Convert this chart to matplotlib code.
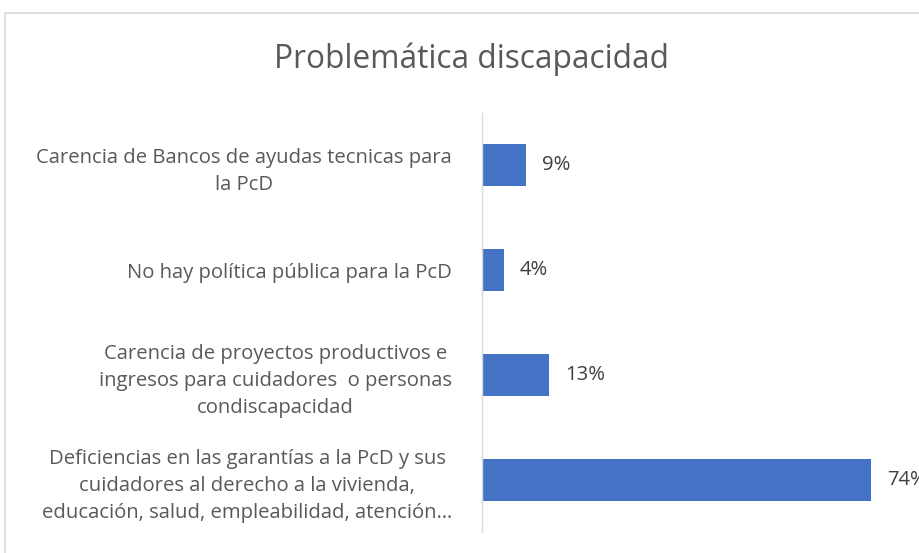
import matplotlib
matplotlib.use("Agg")
import matplotlib.pyplot as plt
from matplotlib.patches import Rectangle

categories = [
    "Carencia de Bancos de ayudas tecnicas para\nla PcD",
    "No hay política pública para la PcD",
    "Carencia de proyectos productivos e\ningresos para cuidadores  o personas\ncondiscapacidad",
    "Deficiencias en las garantías a la PcD y sus\ncuidadores al derecho a la vivienda,\neducación, salud, empleabilidad, atención…",
]
values = [8.5, 4.2, 12.8, 74.4]
labels = ["9%", "4%", "13%", "74%"]

W, H = 919, 553
fig = plt.figure(figsize=(W / 100, H / 100), dpi=100)
fig.patch.set_facecolor("white")

# chart area border
fig.patches.append(Rectangle((5 / W, -0.2), 1.5, (H - 13) / H + 0.2,
                             transform=fig.transFigure, fill=False,
                             edgecolor="#d9d9d9", linewidth=1.2))

ax = fig.add_axes([482 / W, 21 / H, (W - 482) / W, (532 - 113) / H])
ypos = list(range(len(categories)))
ax.barh(ypos, values, height=0.4, color="#4472c4")
ax.set_ylim(len(categories) - 0.5, -0.5)
ax.set_xlim(0, 83.6)
ax.set_yticks(ypos)
ax.set_yticklabels(categories, fontsize=14.6, color="#595959",
                   family="Open Sans", multialignment="center",
                   linespacing=1.48)
ax.tick_params(axis="y", length=0, pad=21.5)
ax.set_xticks([])
for s in ["top", "right", "bottom"]:
    ax.spines[s].set_visible(False)
ax.spines["left"].set_color("#d9d9d9")
ax.spines["left"].set_linewidth(1.0)

for y, v, t in zip(ypos, values, labels):
    ax.annotate(t, (v, y), xytext=(11.5, 0), textcoords="offset points",
                va="center", ha="left", fontsize=14.6, color="#404040",
                family="Open Sans")

fig.text(472 / W, 1 - 59 / H, "Problemática discapacidad", ha="center",
         va="center", fontsize=22.8, color="#595959", family="Open Sans")

fig.savefig("out.png", dpi=100)
